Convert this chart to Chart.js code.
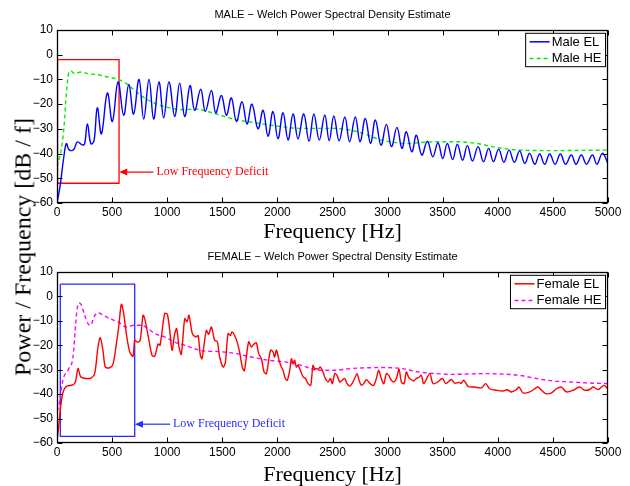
<!DOCTYPE html>
<html>
<head>
<meta charset="utf-8">
<script src="https://cdn.jsdelivr.net/npm/chart.js@4.4.0/dist/chart.umd.min.js"></script>
<style>
  body { margin: 0; background: #fff; }
  #wrap { position: relative; width: 630px; height: 486px; }
  canvas { display: block; }
  #ylabel {
    position: absolute; left: 23px; top: 247px;
    transform: translate(-50%, -50%) rotate(-90deg);
    font: 24px "Liberation Serif", "Times New Roman", serif;
    white-space: nowrap; color: #000;
  }
</style>
</head>
<body>
<div id="wrap">
  <canvas id="male" width="630" height="243"></canvas>
  <canvas id="female" width="630" height="243"></canvas>
  <div id="ylabel">Power / Frequency [dB / f]</div>
</div>
<script>
// axis ticks
const xTickValues = [0, 500, 1000, 1500, 2000, 2500, 3000, 3500, 4000, 4500, 5000];
const yTickValues = [-60, -50, -40, -30, -20, -10, 0, 10];

// MALE - electrolarynx (harmonic comb)
const maleElFreq = [0, 27, 60, 85, 110, 150, 185, 230, 250, 276, 307, 335, 366, 403, 457, 502, 554, 605,
  651, 695, 744, 787, 835, 877, 925, 968, 1016, 1068, 1113, 1159, 1207, 1249, 1304, 1346, 1401, 1440,
  1492, 1537, 1582, 1628, 1679, 1724, 1769, 1824, 1870, 1915, 1960, 2005, 2051, 2097, 2142, 2187, 2239,
  2287, 2331, 2380, 2430, 2470, 2512, 2560, 2612, 2655, 2707, 2750, 2798, 2845, 2889, 2940, 2989, 3035,
  3085, 3130, 3170, 3220, 3261, 3310, 3361, 3410, 3457, 3500, 3542, 3590, 3633, 3680, 3724, 3770, 3821,
  3870, 3917, 3960, 4008, 4055, 4102, 4150, 4198, 4245, 4289, 4335, 4380, 4425, 4471, 4520, 4568, 4615,
  4667, 4710, 4758, 4805, 4858, 4900, 4949, 5000];
const maleElDb = [-60, -53.4, -42, -36, -38.5, -38.5, -35.3, -36.5, -36.2, -28, -36, -35, -21.5, -32, -15.5, -27, -11, -24.5,
  -12, -24, -10, -26, -10, -26, -11, -25.5, -11, -25, -11.5, -25, -12.5, -22.5, -14, -23, -14.5, -23.5,
  -16.5, -24.5, -17.5, -27, -19, -28, -20, -30, -22.5, -33, -23, -34, -23.5, -34.5, -24, -34, -24,
  -35, -24, -34.5, -24.4, -34.8, -24.8, -34.8, -25.2, -35.2, -25.2, -35.2, -25.8, -35.9, -26.4, -36.6, -28.2, -37.2,
  -29.4, -37.9, -31.2, -39.3, -32.6, -40.6, -35, -41.3, -35.6, -42, -35.9, -42.4, -36.2, -42.7, -36.8, -43, -37.2,
  -43.3, -37.9, -43.3, -38.2, -43.5, -38.6, -43.5, -38.9, -44, -39.9, -44.3, -40.2, -44.3, -40.2, -44.3, -40.2, -44.3,
  -40.6, -44.3, -40.6, -44.3, -40.6, -44.3, -39.9, -44];

// MALE - healthy
const maleHeFreq = [0, 40, 64, 85, 106, 127, 157, 218, 278, 369, 460, 551, 627, 687, 763, 854, 944, 1143, 1250,
  1446, 1597, 1794, 2005, 2200, 2500, 2732, 2943, 3185, 3337, 3473, 3624, 3805, 3987, 4199, 4501, 5000];
const maleHeDb = [-45.3, -38, -29, -15.7, -7.6, -6.6, -7.6, -7, -7.6, -8.1, -9, -9.9, -11.6, -13.8, -16.5, -19, -20.6, -22.2, -22,
  -24, -26, -27.5, -28.9, -29.8, -29.8, -31.2, -34.5, -35.9, -35.4, -35.2, -35.2, -35.9, -37.5, -38.6, -38.8, -38.6];

// FEMALE - electrolarynx
const femaleElFreq = [0, 15, 33, 55, 85, 145, 167, 191, 215, 266, 312, 342, 372, 393, 417, 439, 478, 508, 539, 560,
  584, 605, 629, 660, 690, 705, 729, 754, 781, 796, 832, 862, 887, 917, 935, 977, 1001, 1023, 1044, 1068, 1086,
  1107, 1128, 1159, 1180, 1198, 1228, 1259, 1280, 1301, 1316, 1355, 1376, 1401, 1431, 1455, 1476, 1507, 1528,
  1552, 1573, 1588, 1612, 1637, 1658, 1682, 1700, 1718, 1740, 1764, 1785, 1809, 1830, 1855, 1879, 1900, 1921,
  1939, 1960, 1975, 1991, 2015, 2036, 2051, 2072, 2090, 2112, 2127, 2142, 2157, 2172, 2187, 2208, 2233, 2254,
  2278, 2302, 2323, 2339, 2354, 2369, 2390, 2414, 2435, 2460, 2481, 2499, 2520, 2541, 2565, 2587, 2611, 2632,
  2656, 2677, 2701, 2723, 2741, 2762, 2783, 2807, 2829, 2853, 2874, 2898, 2919, 2943, 2965, 2989, 3010, 3034,
  3058, 3080, 3104, 3125, 3149, 3170, 3192, 3216, 3237, 3261, 3282, 3306, 3328, 3382, 3412, 3450, 3497, 3528,
  3579, 3609, 3648, 3669, 3691, 3730, 3790, 3851, 3890, 3927, 3987, 4048, 4084, 4124, 4169, 4193, 4229, 4290,
  4335, 4365, 4396, 4435, 4487, 4532, 4577, 4623, 4683, 4743, 4789, 4834, 4865, 4910, 4962, 5000];
const femaleElDb = [-59, -53.4, -45.2, -39.1, -36.8, -36.2, -35, -29.5, -32.9, -33.6, -33.3, -31.6, -20.7, -16.9, -22.1, -28.9, -29.2, -27.8, -19.3, -12.5,
  -3.2, -7, -15.2, -22.7, -24.5, -18, -18.7, -18, -7.7, -9.1, -17.3, -24.1, -24.5, -19.5, -20, -7, -7.3, -13.9, -22.1, -15.2, -13.2,
  -20.7, -23.7, -9.1, -10.4, -7.7, -15.2, -16.6, -16, -24.1, -25.5, -13.9, -15.5, -12.5, -18, -18.5, -24.8, -28.9, -27,
  -15.2, -16, -14.5, -16, -19, -23, -29, -30.4, -24.8, -18.6, -20.7, -19.6, -19, -23.4, -25.5, -30.9, -31.6, -26.1,
  -22, -22.7, -24.8, -22, -26.1, -28.9, -30.2, -33.6, -34.3, -30.2, -25.5, -27.5, -26.1, -28.9, -28.2, -30.2, -32.9, -33.6,
  -35.7, -36.4, -28.2, -29.8, -29.5, -29.8, -28.9, -30.9, -33.6, -35, -33.6, -35.7, -31.6, -32.3, -35, -34.3, -33.6, -35.7,
  -36.7, -35.7, -33.6, -31.6, -34.3, -36.4, -35.7, -34.1, -35, -36.1, -36.4, -33.6, -30.2, -33.6, -35.7, -31.6, -32.3, -34.3,
  -35, -33.6, -29.8, -35, -35.7, -30.9, -33.2, -34.1, -34.6, -33.6, -33.2, -32.3, -35.7, -31.6, -35.7, -35.2, -33.6, -35.7,
  -34, -35.5, -35.2, -35.6, -34.3, -36.8, -37.1, -37.4, -35.7, -37.8, -38.4, -38.7, -38.2, -39.1, -38.1, -37.1, -39.5, -39.1,
  -37.8, -37.1, -38.4, -39.8, -39.5, -37.8, -37.1, -39.1, -38.4, -37.1, -38.4, -38.1, -37.1, -38.1, -36.4, -37.8];

// FEMALE - healthy
const femaleHeFreq = [0, 17, 53, 108, 145, 170, 181, 200, 220, 251, 281, 305, 336, 372, 417, 478, 554, 629, 705, 765,
  826, 887, 977, 1068, 1159, 1249, 1340, 1431, 1522, 1612, 1764, 1915, 2066, 2217, 2369, 2520, 2671, 2822, 2974,
  3125, 3276, 3442, 3594, 3896, 4048, 4199, 4350, 4502, 4653, 4804, 5000];
const femaleHeDb = [-47, -44.5, -34.3, -29.5, -24.8, -11.1, -5.6, -2.7, -3.4, -7.7, -11.1, -11.8, -8.4, -6.6, -7.7, -9.1, -10.4, -12.5, -11.8, -11.8,
  -13.2, -15.2, -16.6, -18.7, -20, -21.4, -22.4, -22.5, -22.8, -23.3, -24.8, -26.1, -26.8, -28.2, -30.2, -30.2, -29.5, -29.2, -29.1,
  -29.5, -30.9, -31.6, -31.9, -31.6, -31.8, -32.3, -33.6, -34.6, -35, -35.4, -35.7];

// "Low Frequency Deficit" boxes: [freq left, freq right, dB top, dB bottom]
const maleBox = [5, 563, -2, -52];
const femaleBox = [30, 705, 5, -57.3];
// note: [text start freq, dB, arrow tip freq]
const maleNote = [902, -47.5, 565];
const femaleNote = [1053, -52.3, 707];

Chart.defaults.font.family = '"Liberation Sans", Arial, sans-serif';
Chart.defaults.font.size = 12;
Chart.defaults.color = '#000';

function toPoints(xs, ys) {
  return xs.map((f, i) => ({ x: f, y: ys[i] }));
}

function boxPoints(b) {
  return [
    { x: b[0], y: b[2] }, { x: b[1], y: b[2] }, { x: b[1], y: b[3] },
    { x: b[0], y: b[3] }, { x: b[0], y: b[2] },
  ];
}

function minus(v) {
  return String(v).replace('-', '\u2212');
}

// draws frame, inside ticks, title, x title, legend and the arrow note
const matlabLook = {
  id: 'matlabLook',
  afterDatasetsDraw(chart, args, opts) {
    const { ctx, chartArea: a, scales: { x, y } } = chart;
    ctx.save();

    // note with arrow
    const ny = y.getPixelForValue(opts.note[1]);
    const nx0 = x.getPixelForValue(opts.note[0]);
    const nx1 = x.getPixelForValue(opts.note[2]);
    ctx.strokeStyle = opts.noteColor;
    ctx.fillStyle = opts.noteColor;
    ctx.lineWidth = 1.2;
    ctx.beginPath();
    ctx.moveTo(nx0 - 3, ny);
    ctx.lineTo(nx1 + 6, ny);
    ctx.stroke();
    ctx.beginPath();
    ctx.moveTo(nx1, ny);
    ctx.lineTo(nx1 + 8, ny - 3.5);
    ctx.lineTo(nx1 + 8, ny + 3.5);
    ctx.closePath();
    ctx.fill();
    ctx.font = '12px "Liberation Serif", "Times New Roman", serif';
    ctx.textAlign = 'left';
    ctx.textBaseline = 'middle';
    ctx.fillText('Low Frequency Deficit', nx0, ny);

    // frame and ticks
    const l = Math.round(a.left) + 0.5, r = Math.round(a.right) - 0.5;
    const t = Math.round(a.top) + 0.5, b = Math.round(a.bottom) - 0.5;
    ctx.strokeStyle = '#000';
    ctx.lineWidth = 1;
    ctx.beginPath();
    x.ticks.forEach(tk => {
      const px = Math.round(x.getPixelForValue(tk.value)) + 0.5;
      ctx.moveTo(px, b); ctx.lineTo(px, b - 5);
      ctx.moveTo(px, t); ctx.lineTo(px, t + 5);
    });
    y.ticks.forEach(tk => {
      const py = Math.round(y.getPixelForValue(tk.value)) + 0.5;
      ctx.moveTo(l, py); ctx.lineTo(l + 5, py);
      ctx.moveTo(r, py); ctx.lineTo(r - 5, py);
    });
    ctx.stroke();
    ctx.lineWidth = 1.3;
    ctx.strokeRect(l, t, r - l, b - t);

    // legend box (top right, inside)
    const items = chart.data.datasets.filter(ds => ds.inLegend);
    ctx.font = '13px "Liberation Sans", Arial, sans-serif';
    const textW = Math.max(...items.map(ds => ctx.measureText(ds.label).width));
    const boxR = a.right - 2.5;
    const boxL = boxR - (4 + 20 + 2 + textW + 4);
    const boxT = a.top + 3.3;
    ctx.fillStyle = '#fff';
    ctx.fillRect(boxL, boxT, boxR - boxL, 33.4);
    ctx.lineWidth = 1;
    ctx.strokeStyle = '#000';
    ctx.strokeRect(boxL, boxT, boxR - boxL, 33.4);
    items.forEach((ds, i) => {
      const ry = boxT + 8.5 + i * 16.6;
      ctx.strokeStyle = ds.borderColor;
      ctx.lineWidth = 1.5;
      ctx.setLineDash(ds.borderDash || []);
      ctx.beginPath();
      ctx.moveTo(boxL + 4, ry);
      ctx.lineTo(boxL + 24, ry);
      ctx.stroke();
      ctx.setLineDash([]);
      ctx.fillStyle = '#000';
      ctx.textAlign = 'left';
      ctx.textBaseline = 'middle';
      ctx.fillText(ds.label, boxL + 26, ry + 0.5);
    });

    // panel title and x title
    ctx.fillStyle = '#000';
    ctx.textAlign = 'center';
    ctx.textBaseline = 'middle';
    ctx.font = '11px "Liberation Sans", Arial, sans-serif';
    ctx.fillText(opts.title, (a.left + a.right) / 2, opts.titleY);
    ctx.textBaseline = 'alphabetic';
    ctx.font = '22px "Liberation Serif", "Times New Roman", serif';
    ctx.fillText('Frequency [Hz]', (a.left + a.right) / 2, 238);
    ctx.restore();
  },
};

function makePanel(canvasId, cfg) {
  return new Chart(document.getElementById(canvasId), {
    type: 'line',
    data: {
      datasets: [
        {
          label: cfg.elLabel,
          data: toPoints(cfg.elFreq, cfg.elDb),
          borderColor: cfg.elColor,
          borderWidth: 1.4,
          tension: cfg.elTension,
          inLegend: true,
        },
        {
          label: cfg.heLabel,
          data: toPoints(cfg.heFreq, cfg.heDb),
          borderColor: cfg.heColor,
          borderWidth: 1.4,
          borderDash: [4, 3],
          cubicInterpolationMode: 'monotone',
          inLegend: true,
        },
        {
          label: 'box',
          data: boxPoints(cfg.box),
          borderColor: cfg.boxColor,
          borderWidth: 1.3,
          tension: 0,
        },
      ],
    },
    options: {
      responsive: false,
      animation: false,
      layout: { padding: { left: 0, right: 22, top: cfg.padTop, bottom: 0 } },
      elements: { point: { radius: 0 } },
      scales: {
        x: {
          type: 'linear',
          min: 0,
          max: 5000,
          afterBuildTicks: s => { s.ticks = xTickValues.map(v => ({ value: v })); },
          afterFit: s => { s.height = cfg.xHeight; },
          grid: { display: false, drawTicks: false },
          border: { display: false },
          ticks: { padding: 2, maxRotation: 0, autoSkip: false, callback: v => v },
        },
        y: {
          min: -60,
          max: 10,
          afterBuildTicks: s => { s.ticks = yTickValues.map(v => ({ value: v })); },
          afterFit: s => { s.width = 57; },
          grid: { display: false, drawTicks: false },
          border: { display: false },
          ticks: { padding: 4, autoSkip: false, callback: v => minus(v) },
        },
      },
      plugins: {
        legend: { display: false },
        tooltip: { enabled: false },
        matlabLook: {
          title: cfg.title,
          titleY: cfg.titleY,
          note: cfg.note,
          noteColor: cfg.boxColor,
        },
      },
    },
    plugins: [matlabLook],
  });
}

makePanel('male', {
  title: 'MALE \u2212 Welch Power Spectral Density Estimate',
  titleY: 15,
  padTop: 30,
  xHeight: 40,
  elLabel: 'Male EL', elFreq: maleElFreq, elDb: maleElDb, elColor: '#0000ff', elTension: 0.4,
  heLabel: 'Male HE', heFreq: maleHeFreq, heDb: maleHeDb, heColor: '#00ee00',
  box: maleBox, boxColor: '#ff0000', note: maleNote,
});

makePanel('female', {
  title: 'FEMALE \u2212 Welch Power Spectral Density Estimate',
  titleY: 14,
  padTop: 29,
  xHeight: 43,
  elLabel: 'Female EL', elFreq: femaleElFreq, elDb: femaleElDb, elColor: '#ff0000', elTension: 0.3,
  heLabel: 'Female HE', heFreq: femaleHeFreq, heDb: femaleHeDb, heColor: '#ff00ff',
  box: femaleBox, boxColor: '#2a2aff', note: femaleNote,
});
</script>
</body>
</html>
